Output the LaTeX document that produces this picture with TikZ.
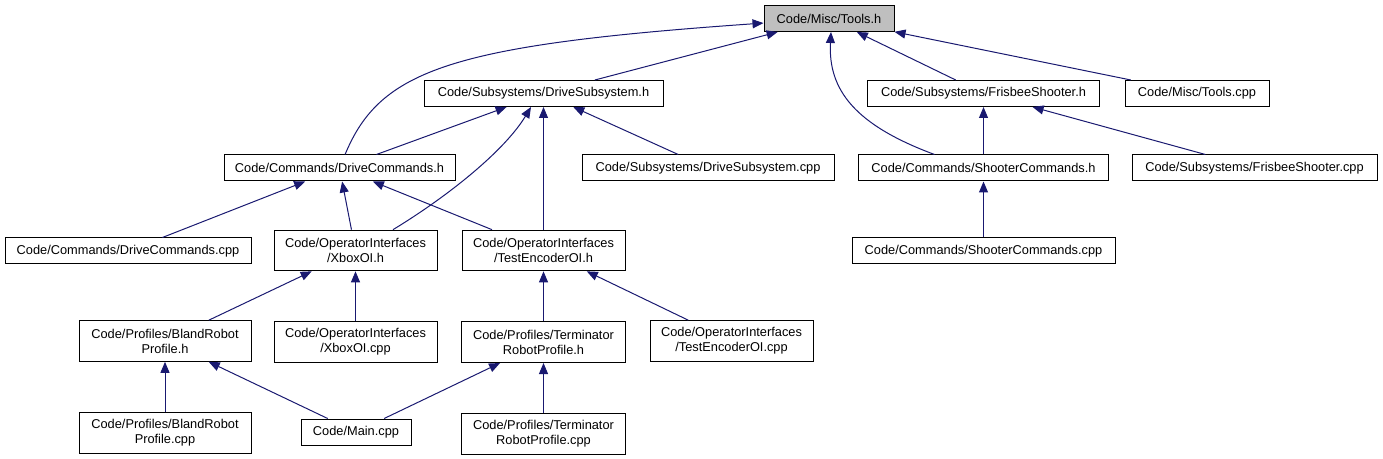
\documentclass[tikz,border=0pt]{standalone}
\usepackage{fontspec}
\setmainfont{Liberation Sans}
\usepackage{tikz}
\usetikzlibrary{arrows.meta,positioning,calc}
\definecolor{edgeblue}{HTML}{191970}
\definecolor{rootgray}{HTML}{BFBFBF}

\begin{document}
\begin{tikzpicture}[x=0.75pt,y=-0.75pt,
    node distance=37.5pt,
    file/.style={rectangle, draw=black, fill=white, line width=0.75pt,
                 font=\fontsize{9.6}{11.25}\selectfont, align=center,
                 inner sep=0pt, minimum width=#1*0.75pt, minimum height=19.5pt},
    file2/.style={file=#1, minimum height=30.5pt},
    root/.style={file=#1, fill=rootgray},
    edge/.style={draw=edgeblue, line width=0.75pt,
                 -{Triangle[length=8.25pt,width=6.75pt]}},
]
\useasboundingbox (0,0) rectangle (1383,459);

% headers and sources
\node[root=130] (toolsh) at (829,18.5) {Code/Misc/Tools.h};
\node[file=239] (drivesubh) at (543.5,93.5) {Code/Subsystems/DriveSubsystem.h};
\node[file=232] (frisbeeh) at (983.5,93.5) {Code/Subsystems/FrisbeeShooter.h};
\node[file=144] (toolscpp) at (1197,93.5) {Code/Misc/Tools.cpp};
\node[file=231] (drivecmdh) at (339.5,168) {Code/Commands/DriveCommands.h};
\node[file=252] (drivesubcpp) at (708,168) {Code/Subsystems/DriveSubsystem.cpp};
\node[file=250] (shootercmdh) at (983.5,168) {Code/Commands/ShooterCommands.h};
\node[file=245] (frisbeecpp) at (1254.5,168) {Code/Subsystems/FrisbeeShooter.cpp};
\node[file=246] (drivecmdcpp) at (128,251) {Code/Commands/DriveCommands.cpp};
\node[file2=163] (xboxh) at (355.5,250.5) {Code/OperatorInterfaces\\/XboxOI.h};
\node[file2=163] (testench) at (543.5,250.5) {Code/OperatorInterfaces\\/TestEncoderOI.h};
\node[file=263] (shootercmdcpp) at (983.5,251) {Code/Commands/ShooterCommands.cpp};
\node[file2=172] (blandh) at (165,341) {Code/Profiles/BlandRobot\\Profile.h};
\node[file2=163,below=of xboxh] (xboxcpp) {Code/OperatorInterfaces\\/XboxOI.cpp};
\node[file2=164,below=of testench] (termh) {Code/Profiles/Terminator\\RobotProfile.h};
\node[file2=163] (testenccpp) at (731.5,341) {Code/OperatorInterfaces\\/TestEncoderOI.cpp};
\node[file2=172,below=of blandh] (blandcpp) {Code/Profiles/BlandRobot\\Profile.cpp};
\node[file=110] (maincpp) at (356,432) {Code/Main.cpp};
\node[file2=164,below=of termh] (termcpp) {Code/Profiles/Terminator\\RobotProfile.cpp};

% includes of Tools.h
\draw[edge] (drivecmdh) .. controls (380,70) and (450,45) .. (toolsh);
\draw[edge] (drivesubh) -- (toolsh);
\draw[edge] ($(shootercmdh.north)+(-49,0)$) .. controls (855,125) and (828,90)
            .. ($(toolsh.south)+(2,0)$);
\draw[edge] (frisbeeh) -- (toolsh);
\draw[edge] (toolscpp) -- (toolsh);

% includes of DriveSubsystem.h / FrisbeeShooter.h
\draw[edge] (drivecmdh) -- (drivesubh);
\draw[edge] ($(xboxh.north)+(37.5,0)$) .. controls (450,195) and (505,150)
            .. ($(drivesubh.south)+(-12.5,0)$);
\draw[edge] (testench) -- (drivesubh);
\draw[edge] (drivesubcpp) -- (drivesubh);
\draw[edge] (shootercmdh) -- (frisbeeh);
\draw[edge] (frisbeecpp) -- (frisbeeh);
\draw[edge] (shootercmdcpp) -- (shootercmdh);

% includes of DriveCommands.h and the OI headers
\draw[edge] (drivecmdcpp) -- (drivecmdh);
\draw[edge] (xboxh) -- (drivecmdh);
\draw[edge] (testench) -- (drivecmdh);
\draw[edge] (blandh) -- (xboxh);
\draw[edge] (xboxcpp) -- (xboxh);
\draw[edge] (termh) -- (testench);
\draw[edge] (testenccpp) -- (testench);

% profiles
\draw[edge] (blandcpp) -- (blandh);
\draw[edge] (maincpp) -- (blandh);
\draw[edge] (maincpp) -- (termh);
\draw[edge] (termcpp) -- (termh);

\end{tikzpicture}
\end{document}
